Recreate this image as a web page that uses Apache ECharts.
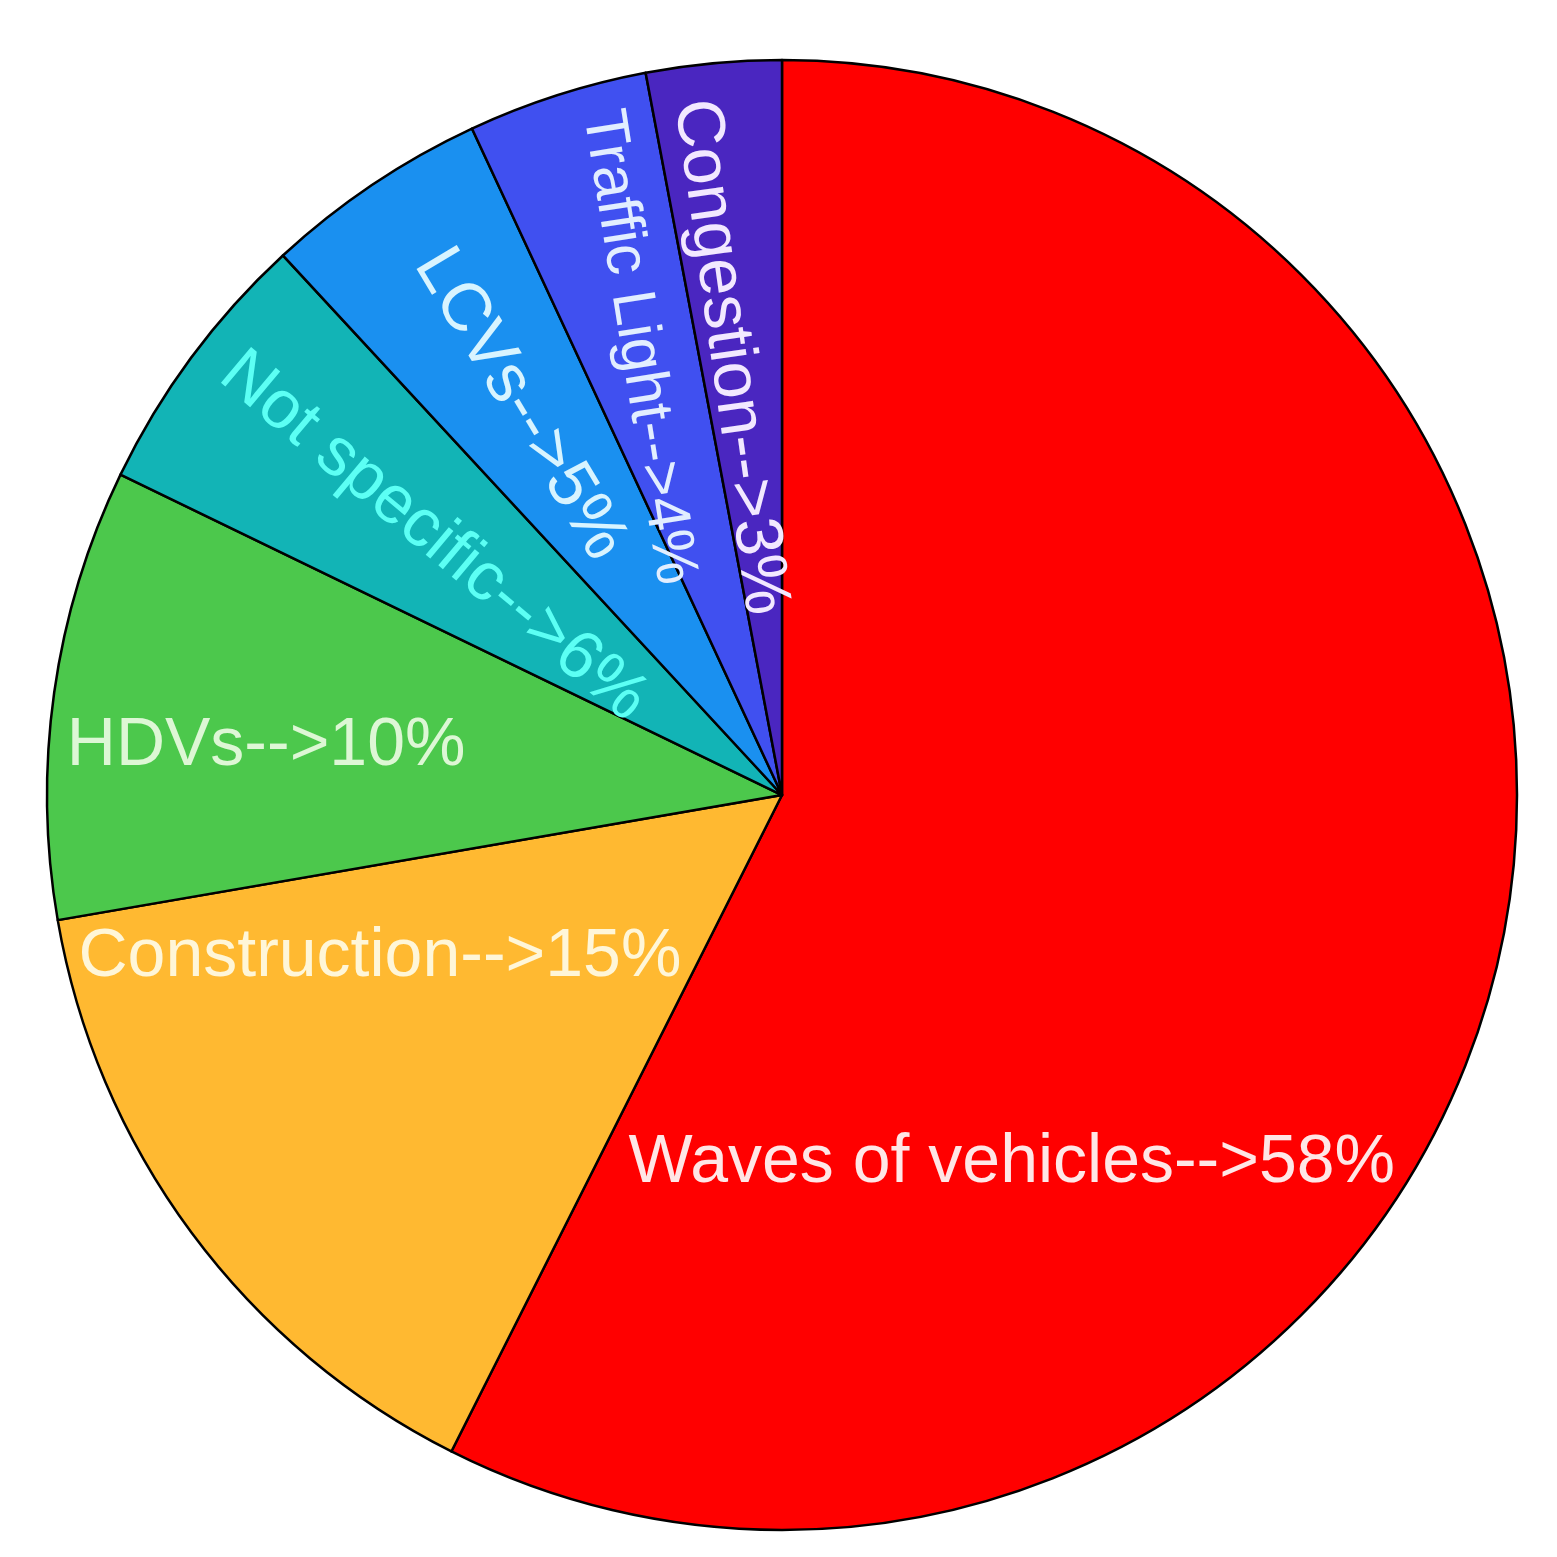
<!DOCTYPE html>
<html>
<head>
<meta charset="utf-8">
<script src="https://cdn.jsdelivr.net/npm/echarts@6/dist/echarts.min.js"></script>
<style>
  html, body { margin: 0; padding: 0; background: #fff; }
  #main { width: 1557px; height: 1557px; }
</style>
</head>
<body>
<div id="main"></div>
<script>
// clockwise from 12 o'clock
var causes = ['Waves of vehicles', 'Construction', 'HDVs', 'Not specific', 'LCVs', 'Traffic Light', 'Congestion'];
var shares = [58, 15, 10, 6, 5, 4, 3];

var sliceColors = ['#ff0000', '#ffb931', '#4cc84c', '#12b4b6', '#1a90f0', '#4050f0', '#4a26c0'];
var textColors = ['#ffe6e6', '#fff6d8', '#ddf7d5', '#5cfff4', '#d8f4ff', '#e2eeff', '#f2e8ff'];
// label rotation (deg), font size, distance from centre as part of radius, optional fixed angle
var labelRotate = [0, 0, 0, -40, -59, -81, -82];
var labelSize = [68, 68, 68, 68, 68, 61, 67];
var labelRadius = [0.59, 0.59, 0.705, 0.59, 0.64, 0.64, 0.6];
var labelAngle = [148, 248, 275.4, null, null, null, 353.2];

var CX = 782, CY = 795, R = 735;

function midAngle(i) {
  var total = 0, before = 0;
  for (var k = 0; k < shares.length; k++) {
    total += shares[k];
    if (k < i) before += shares[k];
  }
  return (before + shares[i] / 2) / total * 360;
}

var chart = echarts.init(document.getElementById('main'));

chart.setOption({
  animation: false,
  series: [{
    type: 'pie',
    center: [CX, CY],
    radius: [0, R],
    startAngle: 90,
    clockwise: true,
    itemStyle: { borderColor: '#000', borderWidth: 2.5 },
    label: {
      show: true,
      position: 'inside',
      formatter: '{b}-->{c}%',
      fontFamily: 'Liberation Sans, Arial, sans-serif',
      fontSize: 68
    },
    labelLine: { show: false },
    labelLayout: function (p) {
      var i = p.dataIndex;
      var a = (labelAngle[i] != null ? labelAngle[i] : midAngle(i)) * Math.PI / 180;
      var rr = R * labelRadius[i];
      return { x: CX + rr * Math.sin(a), y: CY - rr * Math.cos(a) };
    },
    emphasis: { disabled: true },
    data: causes.map(function (name, i) {
      return {
        name: name,
        value: shares[i],
        itemStyle: { color: sliceColors[i] },
        label: { color: textColors[i], rotate: labelRotate[i], fontSize: labelSize[i] }
      };
    })
  }]
});
</script>
</body>
</html>
